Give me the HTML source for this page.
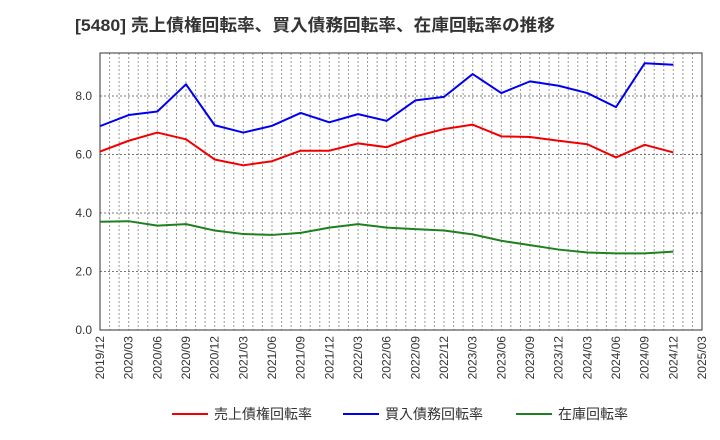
<!DOCTYPE html>
<html><head><meta charset="utf-8"><style>
html,body{margin:0;padding:0;background:#fff;}
svg{display:block;font-family:"Liberation Sans","Noto Sans CJK JP",sans-serif;}
</style></head><body>
<svg id="chart" width="720" height="440" viewBox="0 0 720 440">
<text x="75" y="31" font-size="17" font-weight="bold" fill="#333" textLength="480" lengthAdjust="spacingAndGlyphs">[5480]  売上債権回転率、買入債務回転率、在庫回転率の推移</text>
<g id="grid"></g>
<rect x="100" y="53" width="602" height="277" fill="none" stroke="#333" stroke-width="1"/>
<g id="axes"></g>
<g id="series"></g>
<g id="legend"></g>
</svg>
<script>
const categories=["2019/12","2020/03","2020/06","2020/09","2020/12","2021/03","2021/06","2021/09","2021/12","2022/03","2022/06","2022/09","2022/12","2023/03","2023/06","2023/09","2023/12","2024/03","2024/06","2024/09","2024/12","2025/03"];
const receivables=[6.1,6.47,6.75,6.52,5.83,5.63,5.77,6.13,6.13,6.38,6.25,6.62,6.87,7.02,6.62,6.6,6.47,6.35,5.9,6.33,6.07];
const payables=[6.97,7.35,7.47,8.4,7.0,6.75,6.98,7.42,7.1,7.38,7.15,7.85,7.97,8.75,8.1,8.5,8.35,8.1,7.62,9.12,9.07];
const inventory=[3.7,3.72,3.57,3.62,3.4,3.28,3.25,3.32,3.5,3.62,3.5,3.45,3.4,3.27,3.05,2.9,2.75,2.65,2.62,2.62,2.68];
const yTicks=[0,2,4,6,8];
const yTickLabels=["0.0","2.0","4.0","6.0","8.0"];
const seriesNames=["売上債権回転率","買入債務回転率","在庫回転率"];

const NS="http://www.w3.org/2000/svg";
const X0=100,X1=702,Y0=330,Y1=53,YMAX=9.47;
const xs=i=>X0+i*(X1-X0)/(categories.length-1);
const ys=v=>Y0-v*(Y0-Y1)/YMAX;
function mk(tag,attrs,parent){const e=document.createElementNS(NS,tag);for(const k in attrs)e.setAttribute(k,attrs[k]);parent.appendChild(e);return e;}
const grid=document.getElementById('grid'),axes=document.getElementById('axes'),series=document.getElementById('series'),legend=document.getElementById('legend');
const months=(categories.length-1)*3;
for(let m=1;m<months;m++){const x=X0+m*(X1-X0)/months;
const l=mk('line',{x1:x,x2:x,y1:Y1,y2:Y0,stroke:'#999','stroke-width':1,'stroke-dasharray':'2,2'},grid);

}
yTicks.forEach((v,i)=>{const y=ys(v);
if(v>0){const g=mk('line',{x1:X0,x2:X1,y1:y,y2:y,stroke:'#777','stroke-width':1,'stroke-dasharray':'2,2'},grid);

}
const t=mk('text',{x:92,y:y+4,'font-size':12,'text-anchor':'end',fill:'#333'},axes);t.textContent=yTickLabels[i];

});
categories.forEach((c,i)=>{const x=xs(i);
const t=mk('text',{x:x+4,y:336,'font-size':12,'text-anchor':'end',fill:'#333',transform:`rotate(-90 ${x+4} 336)`},axes);t.textContent=c;

});
const data=[receivables,payables,inventory],colors=['#f00000','#0000f0','#208020'],names=['receivables-line','payables-line','inventory-line'];
data.forEach((arr,k)=>{const p=mk('polyline',{points:arr.map((v,i)=>xs(i)+','+ys(v)).join(' '),fill:'none',stroke:colors[k],'stroke-width':2,'stroke-linejoin':'round'},series);

});
const lx=[172,343,516];
seriesNames.forEach((n,k)=>{const g=mk('g',{},legend);


mk('line',{x1:lx[k],x2:lx[k]+36,y1:414,y2:414,stroke:colors[k],'stroke-width':2},g);
const t=mk('text',{x:lx[k]+42,y:419,'font-size':14,fill:'#333'},g);t.textContent=n;});
</script>
</body></html>
